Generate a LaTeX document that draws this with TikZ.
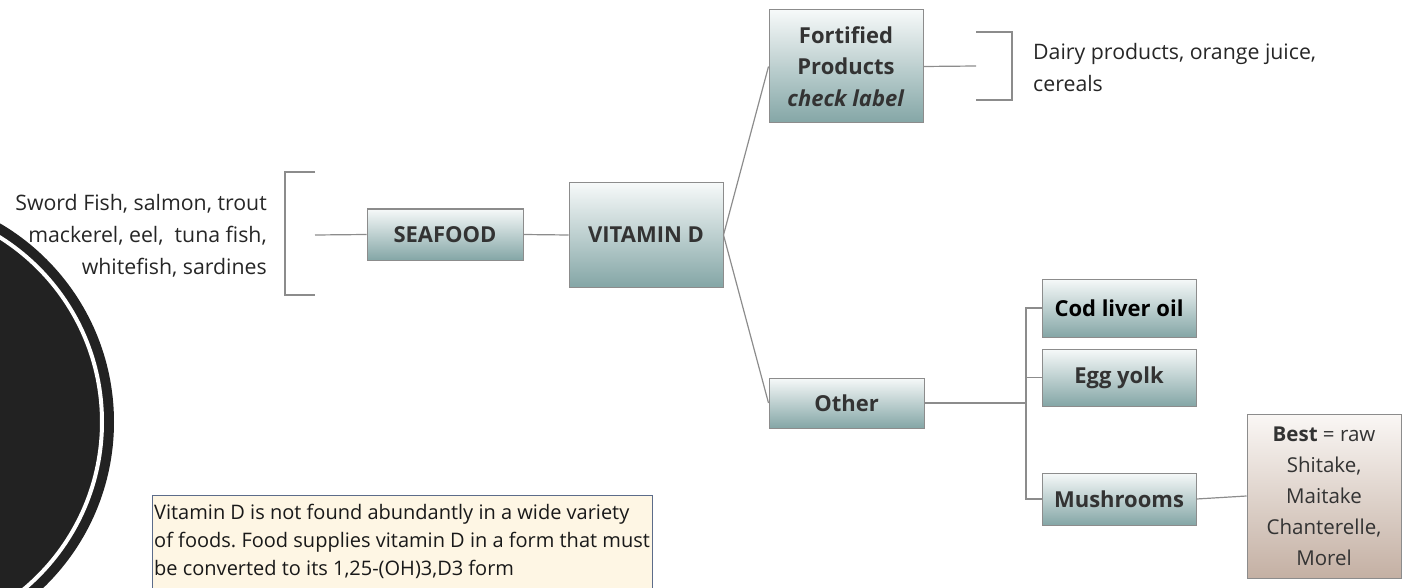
\documentclass[tikz,border=0pt]{standalone}
\usepackage{fontspec}
\setmainfont{Open Sans}
\definecolor{boxtop}{RGB}{246,249,249}
\definecolor{boxbot}{RGB}{132,166,166}
\definecolor{besttop}{RGB}{250,247,245}
\definecolor{bestbot}{RGB}{196,176,163}
\definecolor{notefill}{RGB}{254,246,228}
\definecolor{noteedge}{RGB}{92,108,138}
\definecolor{linegray}{RGB}{140,140,140}
\definecolor{disc}{RGB}{34,34,34}
\begin{document}
\frenchspacing
\begin{tikzpicture}[x=1pt,y=-1pt,
  line/.style={draw=linegray,line width=1.2pt},
  topic/.style={draw=linegray,line width=1pt,top color=boxtop,bottom color=boxbot,
    text=black!80,font=\fontsize{22}{31.5}\selectfont\bfseries,align=center,inner sep=0pt},
  plain/.style={text=black!85,font=\fontsize{21.3}{32}\selectfont,inner sep=0pt}]
\useasboundingbox (0,0) rectangle (1402,588);
\clip (0,0) rectangle (1402,588);

% decorative disc with ring on the left edge
\fill[disc] (-116,422) circle (230);
\draw[white,line width=4pt] (-116,422) circle (218);

% central topic and branches
\node[topic,minimum width=154pt,minimum height=104pt] (vitd) at (646,235) {VITAMIN D};
\node[topic,minimum width=156pt,minimum height=51pt] (seafood) at (445,234.5) {SEAFOOD};
\node[topic,minimum width=154pt,minimum height=113pt] (fort) at (846,66.5)
  {Fortified\\Products\\\textit{check label}};
\node[topic,minimum width=155pt,minimum height=50pt] (other) at (846.5,403) {Other};
\node[topic,minimum width=154pt,minimum height=58pt,text=black] (cod) at (1119,308) {Cod liver oil};
\node[topic,minimum width=154pt,minimum height=57pt] (egg) at (1119,377.5) {Egg yolk};
\node[topic,minimum width=154pt,minimum height=52pt] (mush) at (1119,499) {Mushrooms};
\node[draw=linegray,line width=1pt,top color=besttop,bottom color=bestbot,
  minimum width=154pt,minimum height=164pt,align=center,inner sep=0pt,text=black!80,
  font=\fontsize{20.5}{31}\selectfont] (best) at (1324,496)
  {\textbf{Best} = raw\\Shitake,\\Maitake\\Chanterelle,\\Morel};

% leaf texts
\node[plain,anchor=east,align=right] (fish) at (267,236)
  {Sword Fish, salmon, trout\\mackerel, eel,\ \ tuna fish,\\whitefish, sardines};
\node[plain,anchor=west,align=left] (dairy) at (1033,68)
  {Dairy products, orange juice,\\cereals};

% note box
\draw[draw=noteedge,line width=1pt,fill=notefill] (152,495) rectangle (652,600);
\node[anchor=north west,inner sep=0pt,align=left,text=black!90,
  font=\fontsize{20}{28}\selectfont] (note) at (154,504)
  {Vitamin D is not found abundantly in a wide variety\\
   of foods. Food supplies vitamin D in a form that must\\
   be converted to its 1,25-(OH)3,D3 form};

% connectors
\coordinate (sfb) at (315,235);
\coordinate (frb) at (976,66);
\coordinate (jn) at (1026,403);
\draw[line] (seafood.west) -- (sfb);
\draw[line] (315,172) -- (285,172) -- (285,295) -- (315,295);
\draw[line] (seafood.east) -- (vitd.west);
\draw[line] (vitd.east) -- (fort.west);
\draw[line] (vitd.east) -- (other.west);
\draw[line] (fort.east) -- (frb);
\draw[line] (976,32) -- (1012,32) -- (1012,100) -- (976,100);
\draw[line] (other.east) -- (jn);
\draw[line] (cod.west) -| (jn) |- (mush.west);
\draw[line] (egg.west) -| (jn);
\draw[line] (mush.east) -- (best.west);
\end{tikzpicture}
\end{document}
